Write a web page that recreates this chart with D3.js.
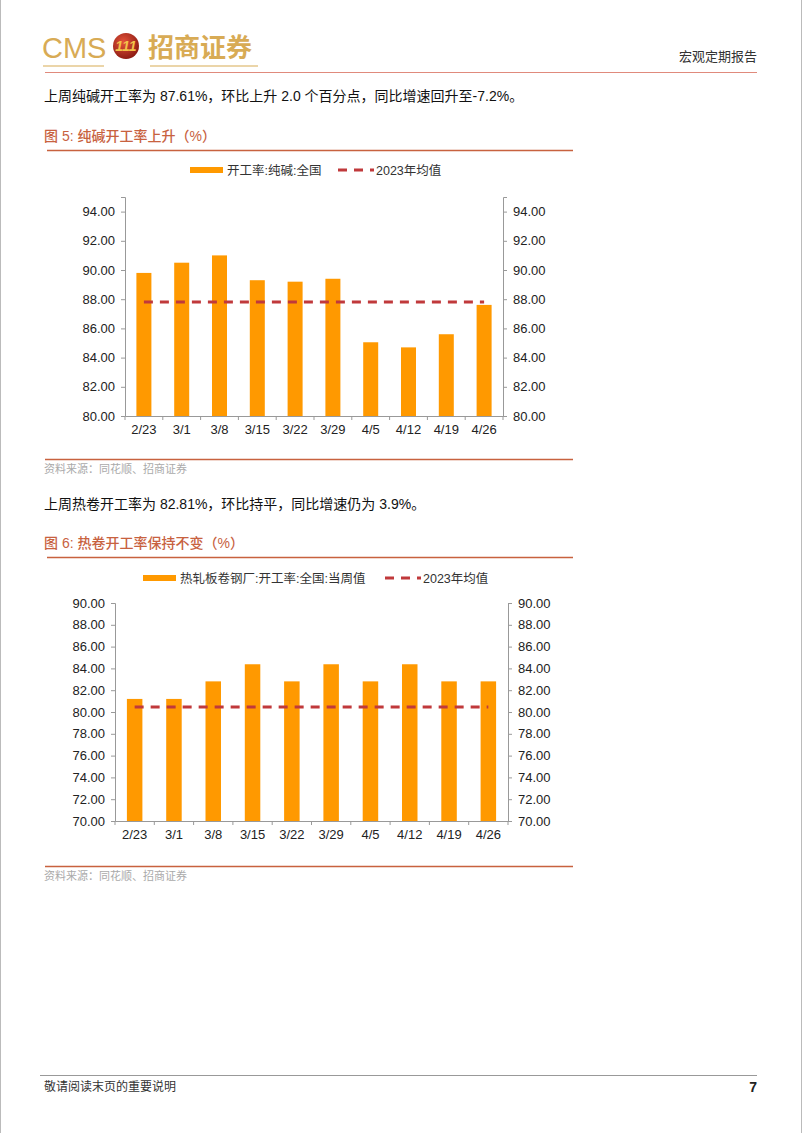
<!DOCTYPE html>
<html>
<head>
<meta charset="utf-8">
<script src="https://cdn.jsdelivr.net/npm/d3@7"></script>
<style>
  body { margin: 0; background: #fff; }
  svg { display: block; }
  text { font-family: "Liberation Sans", Arial, "Noto Sans CJK SC", sans-serif; }
  .cjk { font-family: "Liberation Sans", "Noto Sans CJK SC", sans-serif; }
</style>
</head>
<body>
<script>
// weekly dates shared by both charts
var weeks = ["2/23", "3/1", "3/8", "3/15", "3/22", "3/29", "4/5", "4/12", "4/19", "4/26"];

// chart 5: soda ash operating rate
var sodaRate = [89.8, 90.5, 91.0, 89.3, 89.2, 89.4, 85.05, 84.7, 85.6, 87.61];
var sodaMean2023 = 87.8;
var sodaTicks = [80, 82, 84, 86, 88, 90, 92, 94];

// chart 6: hot rolled coil operating rate
var coilRate = [81.2, 81.2, 82.81, 84.38, 82.81, 84.38, 82.81, 84.38, 82.81, 82.81];
var coilMean2023 = 80.45;
var coilTicks = [70, 72, 74, 76, 78, 80, 82, 84, 86, 88, 90];

var W = 802, H = 1133;
var svg = d3.select("body").append("svg")
    .attr("width", W)
    .attr("height", H);

svg.append("rect").attr("width", W).attr("height", H).attr("fill", "#fff");
// faint page edges
svg.append("line").attr("x1", 0.5).attr("x2", 0.5).attr("y1", 0).attr("y2", H).attr("stroke", "#bbb");
svg.append("line").attr("x1", W - 0.5).attr("x2", W - 0.5).attr("y1", 0).attr("y2", H).attr("stroke", "#bbb");

var gold = "#d8ab55", red = "#c8623f";

// ---- header ----
svg.append("text").attr("x", 42).attr("y", 58)
    .style("font-family", "'Liberation Sans Narrow', 'Liberation Sans', sans-serif")
    .style("font-size", "29px")
    .attr("fill", gold).text("CMS");
svg.append("line").attr("x1", 43).attr("x2", 104).attr("y1", 66).attr("y2", 66).attr("stroke", gold).attr("stroke-width", 1.2);

var grad = svg.append("defs").append("radialGradient").attr("id", "logoG")
    .attr("cx", "40%").attr("cy", "35%").attr("r", "65%");
grad.append("stop").attr("offset", "0%").attr("stop-color", "#e5533a");
grad.append("stop").attr("offset", "100%").attr("stop-color", "#8f1d14");
svg.append("circle").attr("cx", 126).attr("cy", 46).attr("r", 13).attr("fill", "url(#logoG)");
svg.append("text").attr("x", 126).attr("y", 51).attr("text-anchor", "middle")
    .style("font-size", "14px").style("font-weight", "bold").style("font-style", "italic")
    .attr("fill", "#f3c24a").text("111");

svg.append("text").attr("class", "cjk").attr("x", 148).attr("y", 57)
    .style("font-family", "'Noto Sans CJK SC', sans-serif")
    .style("font-size", "26px").style("font-weight", "bold")
    .attr("fill", gold).text("招商证券");
svg.append("line").attr("x1", 150).attr("x2", 258).attr("y1", 66).attr("y2", 66).attr("stroke", gold).attr("stroke-width", 1.2);

svg.append("text").attr("class", "cjk").attr("x", 757).attr("y", 61).attr("text-anchor", "end")
    .style("font-size", "13px").attr("fill", "#333").text("宏观定期报告");
svg.append("line").attr("x1", 45).attr("x2", 757).attr("y1", 72.5).attr("y2", 72.5)
    .attr("stroke", "#e08a7c").attr("stroke-width", 1);

// ---- footer ----
svg.append("line").attr("x1", 40).attr("x2", 757).attr("y1", 1075.5).attr("y2", 1075.5)
    .attr("stroke", "#999").attr("stroke-width", 1);
svg.append("text").attr("class", "cjk").attr("x", 44).attr("y", 1091)
    .style("font-size", "12px").attr("fill", "#333").text("敬请阅读末页的重要说明");
svg.append("text").attr("x", 757).attr("y", 1092).attr("text-anchor", "end")
    .style("font-size", "14px").style("font-weight", "bold").attr("fill", "#222").text("7");

function section(cfg) {
  // lead paragraph
  svg.append("text").attr("class", "cjk").attr("x", 44).attr("y", cfg.textY)
      .style("font-size", "14px").attr("fill", "#111").text(cfg.lead);
  // figure title
  svg.append("text").attr("class", "cjk").attr("x", 44).attr("y", cfg.titleY)
      .style("font-size", "14px").style("font-weight", "500").attr("fill", red).text(cfg.title);
  svg.append("line").attr("x1", 47).attr("x2", 573).attr("y1", cfg.titleY + 9.5).attr("y2", cfg.titleY + 9.5)
      .attr("stroke", red).attr("stroke-width", 1.3);
  // source
  svg.append("line").attr("x1", 45).attr("x2", 573).attr("y1", cfg.srcY).attr("y2", cfg.srcY)
      .attr("stroke", red).attr("stroke-width", 1.3);
  svg.append("text").attr("class", "cjk").attr("x", 44).attr("y", cfg.srcY + 13)
      .style("font-size", "11px").attr("fill", "#aaa").text("资料来源：同花顺、招商证券");
}

function barChart(cfg) {
  var x = d3.scaleBand().domain(weeks).range([cfg.left, cfg.right]);
  var y = d3.scaleLinear().domain(cfg.domain).range([cfg.bottom, cfg.top]);
  var g = svg.append("g");

  // bars
  g.selectAll(".bar")
      .data(cfg.values)
      .enter().append("rect")
      .attr("class", "bar")
      .attr("x", function(d, i) { return x(weeks[i]) + (x.bandwidth() - cfg.barW) / 2; })
      .attr("y", function(d) { return y(d); })
      .attr("width", cfg.barW)
      .attr("height", function(d) { return y(cfg.domain[0]) - y(d); })
      .attr("fill", "#ff9900");

  // 2023 mean line
  var line = d3.line()
      .x(function(d) { return x(d) + x.bandwidth() / 2; })
      .y(function() { return y(cfg.mean); });
  g.append("path")
      .datum(weeks)
      .attr("d", line)
      .attr("fill", "none")
      .attr("stroke", "#c0393b")
      .attr("stroke-width", 3)
      .attr("stroke-dasharray", "9,7");

  // axes
  var fmt = d3.format(".2f");
  var left = g.append("g").attr("transform", "translate(" + cfg.left + ",0)")
      .call(d3.axisLeft(y).tickValues(cfg.ticks).tickFormat(fmt).tickSize(4).tickPadding(6));
  var right = g.append("g").attr("transform", "translate(" + cfg.right + ",0)")
      .call(d3.axisRight(y).tickValues(cfg.ticks).tickFormat(fmt).tickSize(4).tickPadding(6));
  var bottom = g.append("g").attr("transform", "translate(0," + cfg.bottom + ")")
      .call(d3.axisBottom(x).tickSize(0).tickPadding(9));
  // tick marks between categories
  bottom.selectAll(".sep")
      .data(weeks.concat(["end"]))
      .enter().append("line")
      .attr("class", "sep")
      .attr("x1", function(d, i) { return cfg.left + i * x.step(); })
      .attr("x2", function(d, i) { return cfg.left + i * x.step(); })
      .attr("y1", 0).attr("y2", 4)
      .attr("stroke", "#999");

  [left, right, bottom].forEach(function(a) {
    a.select(".domain").attr("stroke", "#999");
    a.selectAll(".tick line").attr("stroke", "#999");
    a.selectAll("text").style("font-size", "13px").attr("fill", "#222")
        .style("font-family", "'Liberation Sans', Arial, sans-serif");
  });

  // legend
  var lg = svg.append("g");
  lg.append("rect").attr("x", cfg.legX).attr("y", cfg.legY - 3).attr("width", 33).attr("height", 6).attr("fill", "#ff9900");
  lg.append("text").attr("class", "cjk").attr("x", cfg.legX + 37).attr("y", cfg.legY + 4.5)
      .style("font-size", "12.5px").attr("fill", "#333").text(cfg.seriesName);
  lg.append("line").attr("x1", cfg.legX2).attr("x2", cfg.legX2 + 36).attr("y1", cfg.legY).attr("y2", cfg.legY)
      .attr("stroke", "#c0393b").attr("stroke-width", 3).attr("stroke-dasharray", "9,7");
  lg.append("text").attr("class", "cjk").attr("x", cfg.legX2 + 38).attr("y", cfg.legY + 4.5)
      .style("font-size", "12.5px").attr("fill", "#333").text("2023年均值");
}

section({
  textY: 101, titleY: 141, srcY: 459.5,
  lead: "上周纯碱开工率为 87.61%，环比上升 2.0 个百分点，同比增速回升至-7.2%。",
  title: "图 5: 纯碱开工率上升（%）"
});
barChart({
  values: sodaRate, mean: sodaMean2023, ticks: sodaTicks, domain: [80, 95],
  left: 125, right: 503, top: 197, bottom: 416, barW: 15,
  legX: 190, legX2: 338, legY: 170, seriesName: "开工率:纯碱:全国"
});

section({
  textY: 509, titleY: 548, srcY: 866.5,
  lead: "上周热卷开工率为 82.81%，环比持平，同比增速仍为 3.9%。",
  title: "图 6: 热卷开工率保持不变（%）"
});
barChart({
  values: coilRate, mean: coilMean2023, ticks: coilTicks, domain: [70, 90],
  left: 115, right: 508, top: 603, bottom: 821, barW: 15.5,
  legX: 143, legX2: 385, legY: 578, seriesName: "热轧板卷钢厂:开工率:全国:当周值"
});
</script>
</body>
</html>
